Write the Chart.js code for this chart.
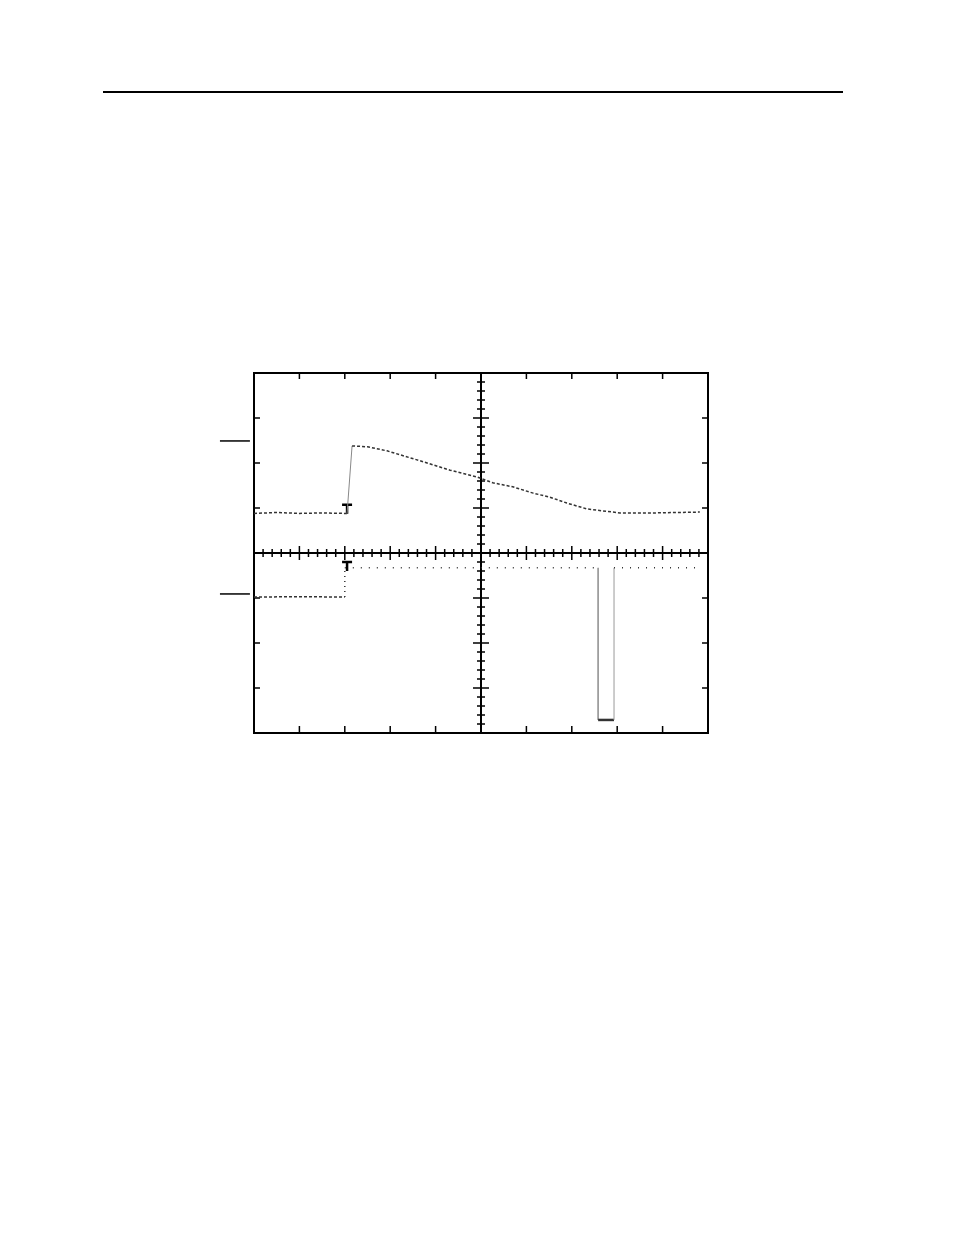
<!DOCTYPE html>
<html>
<head>
<meta charset="utf-8">
<script src="https://cdn.jsdelivr.net/npm/chart.js@4.4.1/dist/chart.umd.min.js"></script>
<style>
    html, body { margin: 0; padding: 0; background: #fff; }
    #page { position: relative; width: 954px; height: 1235px; }
    #rule { position: absolute; left: 103px; top: 91px; width: 740px; height: 2px; background: #000; }
    #scope { position: absolute; left: 0; top: 0; }
</style>
</head>
<body>
<div id="page">
    <div id="rule"></div>
    <canvas id="scope" width="954" height="1235"></canvas>
</div>
<script>
// Screen is 10 x 8 divisions, centre at (5, 0)
const divX = [0, 10];
const divY = [-4, 4];

// Upper trace (channel 1) in divisions
const topTraceX = [0, 0.5, 1.0, 1.5, 2.0, 2.05, 2.16, 2.5, 2.93, 3.59, 4.32, 4.91, 5.26, 5.70, 6.15, 6.52, 6.89, 7.33, 8.06, 8.79, 9.82];
const topTraceY = [0.88, 0.9, 0.88, 0.89, 0.88, 0.88, 2.38, 2.36, 2.27, 2.07, 1.84, 1.69, 1.56, 1.47, 1.33, 1.24, 1.11, 0.98, 0.89, 0.89, 0.91];

// Lower trace (channel 2) with the negative pulse
const lowTraceX = [0, 1.0, 2.0, 2.0, 4.0, 6.0, 7.58, 7.58, 7.93, 7.93, 9.0, 9.82];
const lowTraceY = [-0.98, -0.97, -0.98, -0.33, -0.33, -0.33, -0.33, -3.71, -3.71, -0.33, -0.33, -0.33];

// Level markers left of the screen and trigger point
const markX = [-0.75, -0.09];
const topMarkY = 2.49;
const lowMarkY = -0.91;
const triggerX = 2.05;
const triggerY = [1.07, -0.2];

const toPoints = (xs, ys) => xs.map((x, i) => ({ x: x, y: ys[i] }));

// Draws the graticule: frame, edge ticks and the centre cross with minor ticks
const graticulePlugin = {
    id: 'graticule',
    beforeDatasetsDraw(chart) {
        const c = chart.ctx;
        const xs = chart.scales.x;
        const ys = chart.scales.y;
        const px = v => xs.getPixelForValue(v);
        const py = v => ys.getPixelForValue(v);
        const left = px(divX[0]), right = px(divX[1]);
        const top = py(divY[1]), bottom = py(divY[0]);
        const cx = px(5), cy = py(0);

        c.save();
        c.strokeStyle = '#000';
        c.lineWidth = 2;
        c.strokeRect(left, top, right - left, bottom - top);

        c.lineWidth = 1.5;
        c.beginPath();
        for (let i = divX[0] + 1; i < divX[1]; i++) {
            c.moveTo(px(i), top); c.lineTo(px(i), top + 6);
            c.moveTo(px(i), bottom); c.lineTo(px(i), bottom - 7);
        }
        for (let j = divY[0] + 1; j < divY[1]; j++) {
            c.moveTo(left, py(j)); c.lineTo(left + 6, py(j));
            c.moveTo(right, py(j)); c.lineTo(right - 6, py(j));
        }
        c.stroke();

        // centre cross
        c.lineWidth = 2;
        c.beginPath();
        c.moveTo(left, cy); c.lineTo(right, cy);
        c.moveTo(cx, top); c.lineTo(cx, bottom);
        c.stroke();

        c.lineWidth = 1.5;
        c.beginPath();
        for (let k = 1; k < 50; k++) {
            const v = divX[0] + k * 0.2;
            const len = k % 5 === 0 ? 7 : 4;
            c.moveTo(px(v), cy - len); c.lineTo(px(v), cy + len);
        }
        for (let k = 1; k < 40; k++) {
            const v = divY[0] + k * 0.2;
            const len = k % 5 === 0 ? 8 : 4;
            c.moveTo(cx - len, py(v)); c.lineTo(cx + len, py(v));
        }
        c.stroke();

        // trigger "T" marks
        c.lineWidth = 2.5;
        triggerY.forEach(ty => {
            const tx = px(triggerX), tp = py(ty);
            c.beginPath();
            c.moveTo(tx - 5, tp); c.lineTo(tx + 5, tp);
            c.moveTo(tx, tp); c.lineTo(tx, tp + 9);
            c.stroke();
        });
        c.restore();
    }
};

const lowSegmentDash = ctx => {
    const i = ctx.p0DataIndex;
    if (i >= 6 && i <= 8) return [];
    if (i === 2) return [1, 4];
    if (i >= 3) return [1, 7];
    return [3, 2];
};

new Chart(document.getElementById('scope').getContext('2d'), {
    type: 'scatter',
    data: {
        datasets: [
            {
                data: toPoints(topTraceX, topTraceY),
                showLine: true,
                borderColor: '#333',
                borderWidth: 1.5,
                borderDash: [3, 2],
                pointRadius: 0,
                segment: {
                    borderDash: ctx => ctx.p0DataIndex === 5 ? [] : undefined,
                    borderColor: ctx => ctx.p0DataIndex === 5 ? '#888' : undefined,
                    borderWidth: ctx => ctx.p0DataIndex === 5 ? 1 : undefined
                }
            },
            {
                data: toPoints(lowTraceX, lowTraceY),
                showLine: true,
                borderColor: '#333',
                borderWidth: 1.5,
                pointRadius: 0,
                segment: {
                    borderDash: lowSegmentDash,
                    borderColor: ctx => (ctx.p0DataIndex === 6 || ctx.p0DataIndex === 8) ? '#999' : '#333',
                    borderWidth: ctx => ctx.p0DataIndex === 7 ? 2.5 : (ctx.p0DataIndex === 6 || ctx.p0DataIndex === 8 ? 1 : 1.5)
                }
            },
            {
                data: toPoints(markX, [topMarkY, topMarkY]),
                showLine: true,
                borderColor: '#000',
                borderWidth: 1.5,
                pointRadius: 0,
                clip: false
            },
            {
                data: toPoints(markX, [lowMarkY, lowMarkY]),
                showLine: true,
                borderColor: '#000',
                borderWidth: 1.5,
                pointRadius: 0,
                clip: false
            }
        ]
    },
    options: {
        responsive: false,
        devicePixelRatio: 1,
        animation: false,
        layout: { padding: { left: 254, right: 246, top: 373, bottom: 502 } },
        plugins: { legend: { display: false }, tooltip: { enabled: false } },
        scales: {
            x: { type: 'linear', min: divX[0], max: divX[1], display: false },
            y: { type: 'linear', min: divY[0], max: divY[1], display: false }
        }
    },
    plugins: [graticulePlugin]
});
</script>
</body>
</html>
